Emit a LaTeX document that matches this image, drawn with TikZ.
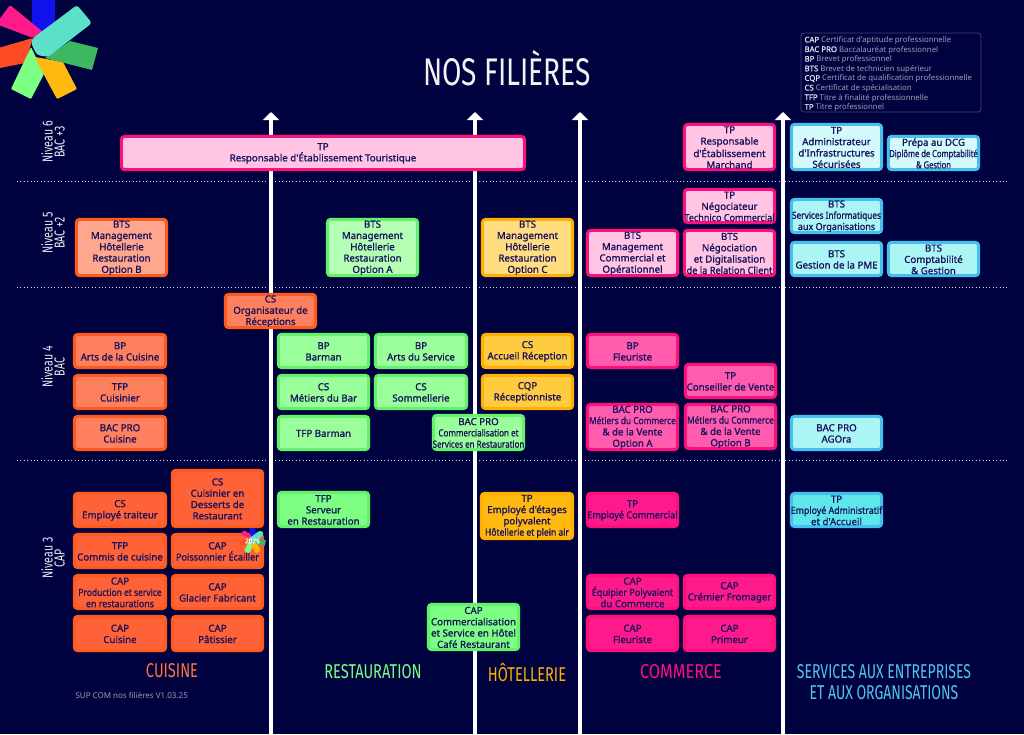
\documentclass[tikz,border=0pt]{standalone}
\usepackage{fontspec}
\usepackage{graphicx}
\usetikzlibrary{arrows.meta}
\setmainfont{Noto Sans}
\newfontfamily\semif{Noto Sans}[FakeBold=1.1]
\newfontfamily\condf{Fira Sans}[FakeStretch=0.73]
\definecolor{bgc}{HTML}{00023F}
\definecolor{ink}{HTML}{17115C}
\definecolor{oB}{HTML}{FF5A1E}\definecolor{oA}{HTML}{FFA68F}\definecolor{oC}{HTML}{FF805F}\definecolor{oD}{HTML}{FF6236}
\definecolor{gB}{HTML}{62F36A}\definecolor{gA}{HTML}{B4FFB4}\definecolor{gC}{HTML}{9AFF9A}\definecolor{gD}{HTML}{7CFF82}
\definecolor{yB}{HTML}{FFB000}\definecolor{yA}{HTML}{FFDD80}\definecolor{yC}{HTML}{FFCC40}\definecolor{yD}{HTML}{FFB90F}
\definecolor{pB}{HTML}{FF0F7B}\definecolor{pA}{HTML}{FFC5E3}\definecolor{pC}{HTML}{FF5CAE}\definecolor{pD}{HTML}{FF1A8C}
\definecolor{bB}{HTML}{45BEF0}\definecolor{bA}{HTML}{D4FBFB}\definecolor{bE}{HTML}{ABF5F5}\definecolor{bD}{HTML}{5FE6EB}
\tikzset{
  boxfill/.style={inner sep=0pt,rounded corners=3.5pt},
  boxtext/.style={inner sep=0pt,align=center,text=ink,yshift=-.4pt,font=\fontsize{9.7}{11.3}\selectfont\semif},
  boxline/.style={line width=3pt,rounded corners=3.5pt},
  axisarrow/.style={white,line width=4pt,-{Triangle[width=16pt,length=8pt]}},
  levelsep/.style={white!85!bgc,line width=1pt,dash pattern=on 1pt off 2.4pt},
  levellabel/.style={rotate=90,align=center,text=white!92!bgc,font=\fontsize{14.5}{12}\selectfont\condf},
  sector/.style={align=center,font=\fontsize{20}{21}\selectfont\condf},
}
\newcommand\bx[8]{%
  \node[boxfill,fill=#6,minimum width={(#4)-(#2)-3},minimum height={(#5)-(#3)-3}] (#1) at ({((#2)+(#4))/2},{((#3)+(#5))/2}) {};
  \draw[boxline,draw=#7] (#1.north west) rectangle (#1.south east);
  \begin{scope}
    \clip ([xshift=-6pt,yshift=3pt]#1.north west) rectangle ([xshift=6pt,yshift=1.5pt]#1.south east);
    \node[boxtext] (#1t) at (#1.center) {#8};
  \end{scope}
}
\newcommand\tg[2]{\scalebox{#1}[1]{#2}}
\newcommand\ab[1]{{\semif\color{white!88!bgc}#1}}
\definecolor{lgB}{HTML}{1212EE}\definecolor{lgR}{HTML}{FF4A26}\definecolor{lgG}{HTML}{3DB860}\definecolor{lgT}{HTML}{5CE0C8}
\newcommand\petals{%
  \fill[fill=lgB] (32,-2) -- (55,-2) -- (55,25) -- (43,33) -- (32,27) -- cycle;
  \fill[fill=pD,rounded corners=1.5pt] (10,5) -- (43,32) -- (33,38) -- (-4,24) -- cycle;
  \fill[fill=lgR] (-5,49) -- (33,38) -- (25,63) -- (-5,69) -- cycle;
  \fill[fill=gD,rounded corners=1pt] (31,47) -- (44,74) -- (31,99) -- (11,89) -- cycle;
  \fill[fill=yD,rounded corners=1pt] (35,57) -- (63,62) -- (77,89) -- (57,99) -- (43,73) -- cycle;
  \fill[fill=lgG] (70,41) -- (98,48) -- (92,70) -- (45,58) -- cycle;
  \fill[fill=lgT,rounded corners=3pt] (77,5) -- (92,23) -- (48,57) -- (37,55) -- (31,43) -- (33,38) -- cycle;
}
\begin{document}
\begin{tikzpicture}[x=1pt,y=-1pt]
\useasboundingbox (0,0) rectangle (1024,734);
\fill[bgc] (0,0) rectangle (1024,734);
% logo
\begin{scope}\petals\end{scope}
% level separators
\foreach \yy/\nm in {181/a,287/b,460/c}{
  \coordinate (sepL\nm) at (17,\yy); \coordinate (sepR\nm) at (1008,\yy);
  \draw[levelsep] (sepL\nm) -- (sepR\nm);
}
% arrows
\foreach \xx/\nm in {271/a,475/b,580/c,783/d}{
  \coordinate (arB\nm) at (\xx,736); \coordinate (arT\nm) at (\xx,112);
  \draw[axisarrow] (arB\nm) -- (arT\nm);
}
% title
\node[text=white!95!bgc,font=\fontsize{38.5}{39}\selectfont\condf] (title) at (507,68) {NOS FILIÈRES};
% legend
\draw[draw=white!25!bgc,line width=.8pt,rounded corners=3pt] (801,33) rectangle (981,112);
\node[anchor=west,align=left,text=white!62!bgc,font=\fontsize{7.8}{9.6}\selectfont] (legend) at (801,74) {%
\ab{CAP} Certificat d'aptitude professionnelle\\
\ab{BAC PRO}  Baccalauréat professionnel\\
\ab{BP} Brevet professionnel\\
\ab{BTS} Brevet de technicien supérieur\\
\ab{CQP} Certificat de qualification professionnelle\\
\ab{CS} Certificat de spécialisation\\
\ab{TFP} Titre à finalité professionnelle\\
\ab{TP} Titre professionnel};
% level labels
\node[levellabel] (n6) at (53,142) {Niveau 6\\BAC +3};
\node[levellabel] (n5) at (53,233) {Niveau 5\\BAC +2};
\node[levellabel] (n4) at (53,367) {Niveau 4\\BAC};
\node[levellabel] (n3) at (53,558) {Niveau 3\\CAP};
% level 6
\bx{t1}{120}{135}{526}{171}{pA}{pB}{TP\\Responsable d'Établissement Touristique}
\bx{t2}{683}{123}{776}{171}{pA}{pB}{TP\\Responsable\\d'Établissement\\Marchand}
\bx{t3}{790}{123}{883}{171}{bA}{bB}{TP\\Administrateur\\d'Infrastructures\\Sécurisées}
\bx{t4}{887}{135}{980}{171}{bA}{bB}{Prépa au DCG\\\tg{.78}{Diplôme de Comptabilité}\\\tg{.78}{\& Gestion}}
% level 5
\bx{c5}{75}{218}{168}{277}{oA}{oB}{BTS\\Management\\Hôtellerie\\Restauration\\Option B}
\bx{g5}{326}{218}{419}{277}{gA}{gB}{BTS\\Management\\Hôtellerie\\Restauration\\Option A}
\bx{y5}{481}{218}{574}{277}{yA}{yB}{BTS\\Management\\Hôtellerie\\Restauration\\Option C}
\bx{p5a}{586}{229}{679}{277}{pA}{pB}{BTS\\Management\\Commercial et\\Opérationnel}
\bx{p5b}{683}{229}{776}{277}{pA}{pB}{BTS\\Négociation\\et Digitalisation\\\tg{.95}{de la Relation Client}}
\bx{p5c}{683}{188}{776}{224}{pA}{pB}{TP\\Négociateur\\\tg{.93}{Technico Commercial}}
\bx{b5a}{790}{198}{883}{234}{bE}{bB}{BTS\\\tg{.85}{Services Informatiques}\\\tg{.93}{aux Organisations}}
\bx{b5b}{790}{241}{883}{277}{bE}{bB}{BTS\\Gestion de la PME}
\bx{b5c}{887}{241}{980}{277}{bE}{bB}{BTS\\Comptabilité\\\& Gestion}
% level 4
\bx{c4o}{224}{293}{317}{329}{oC}{oB}{CS\\Organisateur de\\Réceptions}
\bx{c4a}{73}{333}{167}{369}{oC}{oB}{BP\\Arts de la Cuisine}
\bx{c4b}{73}{374}{167}{410}{oC}{oB}{TFP\\Cuisinier}
\bx{c4c}{73}{415}{167}{451}{oC}{oB}{BAC PRO\\Cuisine}
\bx{g4a}{277}{333}{370}{369}{gC}{gB}{BP\\Barman}
\bx{g4b}{277}{374}{370}{410}{gC}{gB}{CS\\Métiers du Bar}
\bx{g4c}{277}{415}{370}{451}{gC}{gB}{TFP Barman}
\bx{g4d}{374}{333}{468}{369}{gC}{gB}{BP\\Arts du Service}
\bx{g4e}{374}{374}{468}{410}{gC}{gB}{CS\\Sommellerie}
\bx{g4f}{432}{414}{525}{451}{gC}{gB}{BAC PRO\\\tg{.83}{Commercialisation et}\\\tg{.82}{Services en Restauration}}
\bx{y4a}{481}{333}{574}{369}{yC}{yB}{CS\\Accueil Réception}
\bx{y4b}{481}{374}{574}{410}{yC}{yB}{CQP\\Réceptionniste}
\bx{p4a}{586}{333}{679}{369}{pC}{pB}{BP\\Fleuriste}
\bx{p4b}{684}{363}{777}{399}{pC}{pB}{TP\\Conseiller de Vente}
\bx{p4c}{586}{403}{679}{451}{pC}{pB}{BAC PRO\\\tg{.86}{Métiers du Commerce}\\\& de la Vente\\Option A}
\bx{p4d}{684}{403}{777}{450}{pC}{pB}{BAC PRO\\\tg{.86}{Métiers du Commerce}\\\& de la Vente\\Option B}
\bx{b4}{790}{415}{883}{451}{bE}{bB}{BAC PRO\\AGOra}
% level 3
\bx{c3a}{73}{492}{167}{528}{oD}{oB}{CS\\Employé traiteur}
\bx{c3b}{171}{469}{264}{528}{oD}{oB}{CS\\Cuisinier en\\Desserts de\\Restaurant}
\bx{c3c}{73}{533}{167}{569}{oD}{oB}{TFP\\Commis de cuisine}
\bx{c3d}{171}{533}{264}{569}{oD}{oB}{CAP\\\tg{.94}{Poissonnier Écailler}}
\bx{c3e}{73}{574}{167}{610}{oD}{oB}{CAP\\\tg{.87}{Production et service}\\\tg{.91}{en restaurations}}
\bx{c3f}{171}{574}{264}{610}{oD}{oB}{CAP\\Glacier Fabricant}
\bx{c3g}{73}{615}{167}{652}{oD}{oB}{CAP\\Cuisine}
\bx{c3h}{171}{615}{264}{652}{oD}{oB}{CAP\\Pâtissier}
\bx{g3a}{277}{491}{370}{528}{gD}{gB}{TFP\\Serveur\\en Restauration}
\bx{g3b}{427}{603}{520}{651}{gD}{gB}{CAP\\Commercialisation\\et Service en Hôtel\\Café Restaurant}
\bx{y3}{480}{492}{574}{540}{yD}{yB}{TP\\Employé d'étages\\polyvalent\\\tg{.88}{Hôtellerie et plein air}}
\bx{p3a}{586}{492}{679}{528}{pD}{pB}{TP\\\tg{.94}{Employé Commercial}}
\bx{p3b}{586}{574}{679}{610}{pD}{pB}{CAP\\\tg{.93}{Équipier Polyvalent}\\du Commerce}
\bx{p3c}{683}{574}{776}{610}{pD}{pB}{CAP\\Crémier Fromager}
\bx{p3d}{586}{615}{679}{652}{pD}{pB}{CAP\\Fleuriste}
\bx{p3e}{683}{615}{776}{652}{pD}{pB}{CAP\\Primeur}
\bx{b3}{790}{492}{883}{528}{bD}{bB}{TP\\\tg{.91}{Employé Administratif}\\et d'Accueil}
% small logo
\begin{scope}[shift={(241.5,528.5)},x=.25pt,y=-.25pt]\petals\end{scope}
\node[text=white,font=\fontsize{6.5}{7}\selectfont\semif] (yr) at (252.5,541) {2026};
% sector labels
\node[sector,text=oB!85!white] (s1) at (172,671) {CUISINE};
\node[sector,text=gD] (s2) at (373,672) {RESTAURATION};
\node[sector,text=yB] (s3) at (527,672) {HÔTELLERIE};
\node[sector,text=pB] (s4) at (681,672) {\scalebox{1.12}[1]{COMMERCE}};
\node[sector,text=bD!85!blue] (s5) at (884,682) {\scalebox{.96}[1]{SERVICES AUX ENTREPRISES}\\\scalebox{.96}[1]{ET AUX ORGANISATIONS}};
\node[text=white!60!bgc,anchor=west,font=\fontsize{8}{9}\selectfont] (ver) at (72,695) {SUP COM nos filières V1.03.25};
\end{tikzpicture}
\end{document}
